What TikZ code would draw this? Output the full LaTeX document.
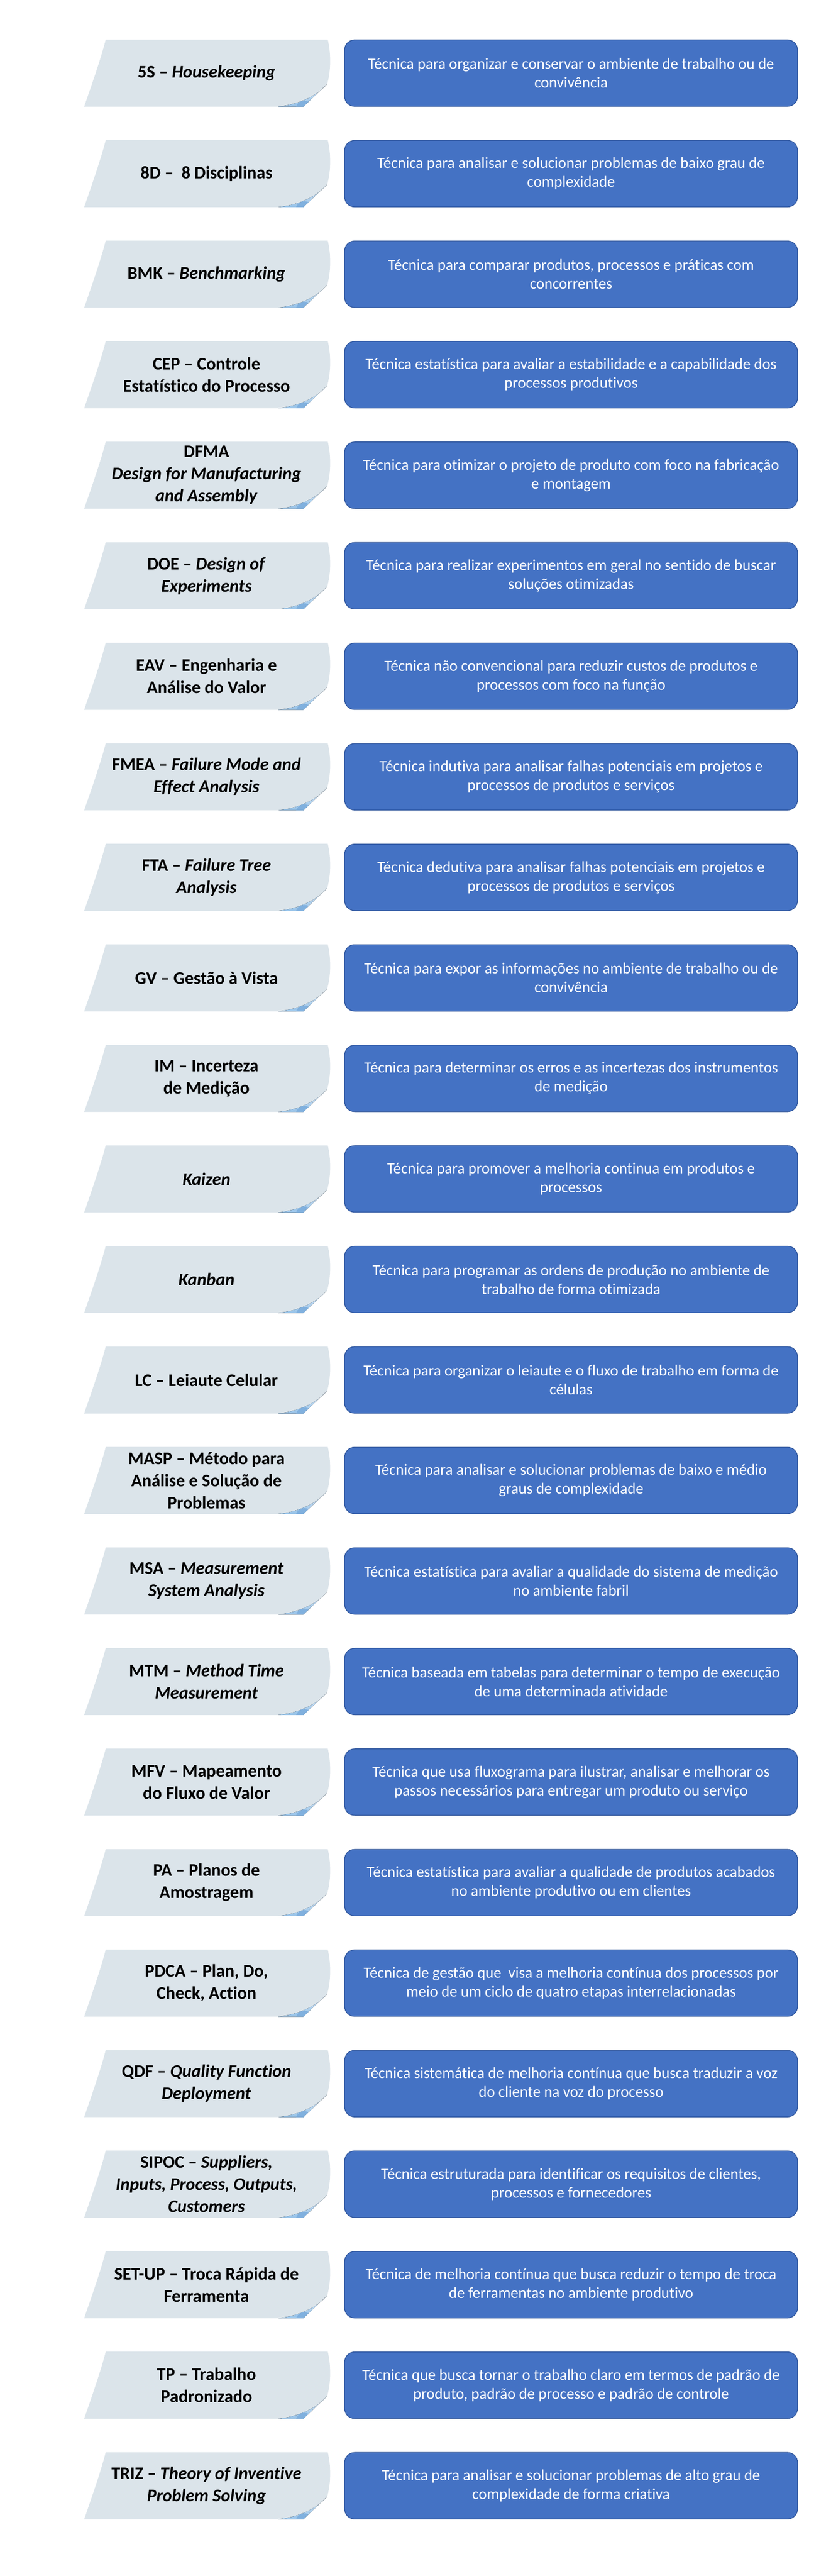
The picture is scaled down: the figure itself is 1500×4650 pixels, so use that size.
\documentclass[tikz,border=0pt]{standalone}
\usepackage{fontspec}
\setmainfont[Ligatures=NoCommon]{Carlito}
\definecolor{notefill}{RGB}{219,228,234}
\definecolor{boxblue}{RGB}{68,114,196}
\definecolor{boxedge}{RGB}{50,88,158}
\definecolor{curlA}{RGB}{218,233,247}
\definecolor{curlB}{RGB}{150,194,232}
\definecolor{curlC}{RGB}{128,176,222}
\tikzset{
  lefttext/.style={align=center,text=black,inner sep=0pt,font=\fontsize{32}{40}\selectfont\bfseries},
  descbox/.style={rounded corners=18pt,fill=boxblue,draw=boxedge,line width=1.3pt,
    minimum width=818pt,minimum height=120pt,inner sep=0pt,align=center,text=white,
    font=\fontsize{28}{34}\selectfont},
  notebody/.style={fill=notefill},
}
\newcommand\techrow[3]{%
  \pgfmathsetmacro\rowy{71.5+(#1-1)*181.46}%
  \begin{scope}[shift={(0,\rowy)}]
    \fill[notebody] (191,0) -- (592,0) .. controls (598,25) and (598,55) .. (591,80)
      -- (548,121) -- (152,121) .. controls (168,75) and (182,35) .. (191,0) -- cycle;
    \fill[top color=curlA,bottom color=curlB] (591,80) -- (548,121) -- (502,121)
      .. controls (540,117) and (572,102) .. (591,80) -- cycle;
    \fill[curlC] (548,121) -- (557,112) .. controls (549,108) and (538,111) .. (535,121) -- cycle;
    \node[lefttext] (n#1) at (373,60.5) {#2};
    \node[descbox] (d#1) at (1031.5,60.5) {#3};
  \end{scope}}
\begin{document}
\begin{tikzpicture}[x=1pt,y=-1pt]
\useasboundingbox (0,0) rectangle (1500,4650);
\fill[white] (0,0) rectangle (1500,4650);
\techrow{1}{5S -- \textit{Housekeeping}}{Técnica para organizar e conservar o ambiente de trabalho ou de\\convivência}
\techrow{2}{8D -- \ 8 Disciplinas}{Técnica para analisar e solucionar problemas de baixo grau de\\complexidade}
\techrow{3}{BMK -- \textit{Benchmarking}}{Técnica para comparar produtos, processos e práticas com\\concorrentes}
\techrow{4}{CEP -- Controle\\Estatístico do Processo}{Técnica estatística para avaliar a estabilidade e a capabilidade dos\\processos produtivos}
\techrow{5}{DFMA\\\textit{Design for Manufacturing}\\\textit{and Assembly}}{Técnica para otimizar o projeto de produto com foco na fabricação\\e montagem}
\techrow{6}{DOE -- \textit{Design of}\\\textit{Experiments}}{Técnica para realizar experimentos em geral no sentido de buscar\\soluções otimizadas}
\techrow{7}{EAV -- Engenharia e\\Análise do Valor}{Técnica não convencional para reduzir custos de produtos e\\processos com foco na função}
\techrow{8}{FMEA -- \textit{Failure Mode and}\\\textit{Effect Analysis}}{Técnica indutiva para analisar falhas potenciais em projetos e\\processos de produtos e serviços}
\techrow{9}{FTA -- \textit{Failure Tree}\\\textit{Analysis}}{Técnica dedutiva para analisar falhas potenciais em projetos e\\processos de produtos e serviços}
\techrow{10}{GV -- Gestão à Vista}{Técnica para expor as informações no ambiente de trabalho ou de\\convivência}
\techrow{11}{IM -- Incerteza\\de Medição}{Técnica para determinar os erros e as incertezas dos instrumentos\\de medição}
\techrow{12}{\textit{Kaizen}}{Técnica para promover a melhoria continua em produtos e\\processos}
\techrow{13}{\textit{Kanban}}{Técnica para programar as ordens de produção no ambiente de\\trabalho de forma otimizada}
\techrow{14}{LC -- Leiaute Celular}{Técnica para organizar o leiaute e o fluxo de trabalho em forma de\\células}
\techrow{15}{MASP -- Método para\\Análise e Solução de\\Problemas}{Técnica para analisar e solucionar problemas de baixo e médio\\graus de complexidade}
\techrow{16}{MSA -- \textit{Measurement}\\\textit{System Analysis}}{Técnica estatística para avaliar a qualidade do sistema de medição\\no ambiente fabril}
\techrow{17}{MTM -- \textit{Method Time}\\\textit{Measurement}}{Técnica baseada em tabelas para determinar o tempo de execução\\de uma determinada atividade}
\techrow{18}{MFV -- Mapeamento\\do Fluxo de Valor}{Técnica que usa fluxograma para ilustrar, analisar e melhorar os\\passos necessários para entregar um produto ou serviço}
\techrow{19}{PA -- Planos de\\Amostragem}{Técnica estatística para avaliar a qualidade de produtos acabados\\no ambiente produtivo ou em clientes}
\techrow{20}{PDCA -- Plan, Do,\\Check, Action}{Técnica de gestão que \ visa a melhoria contínua dos processos por\\meio de um ciclo de quatro etapas interrelacionadas}
\techrow{21}{QDF -- \textit{Quality Function}\\\textit{Deployment}}{Técnica sistemática de melhoria contínua que busca traduzir a voz\\do cliente na voz do processo}
\techrow{22}{SIPOC -- \textit{Suppliers,}\\\textit{Inputs, Process, Outputs,}\\\textit{Customers}}{Técnica estruturada para identificar os requisitos de clientes,\\processos e fornecedores}
\techrow{23}{SET-UP -- Troca Rápida de\\Ferramenta}{Técnica de melhoria contínua que busca reduzir o tempo de troca\\de ferramentas no ambiente produtivo}
\techrow{24}{TP -- Trabalho\\Padronizado}{Técnica que busca tornar o trabalho claro em termos de padrão de\\produto, padrão de processo e padrão de controle}
\techrow{25}{TRIZ -- \textit{Theory of Inventive}\\\textit{Problem Solving}}{Técnica para analisar e solucionar problemas de alto grau de\\complexidade de forma criativa}
\end{tikzpicture}
\end{document}
